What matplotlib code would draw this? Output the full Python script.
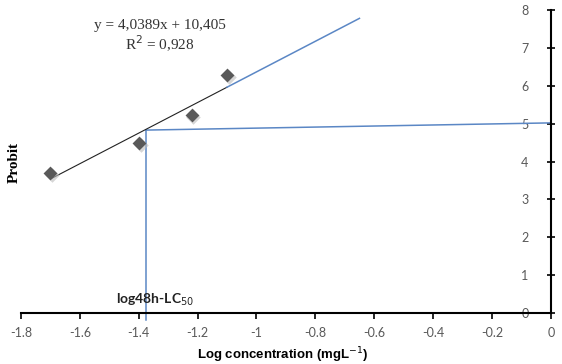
import matplotlib
matplotlib.use("Agg")
import matplotlib.pyplot as plt
import numpy as np

# observed points
log_conc = [-1.70, -1.40, -1.22, -1.10]
probit = [3.69, 4.49, 5.23, 6.28]

# fitted line y = a*x + b
slope = 4.0389
intercept = 10.405
fit_black_x = [-1.70, -1.10]
fit_blue_x = [-1.10, -0.65]

# LC50 guide lines
lc50_x = -1.375
guide_vert_y = [-0.18, 4.83]
guide_horiz_x = [-1.375, 0.0]
guide_horiz_y = [4.83, 5.02]

xticks = [-1.8, -1.6, -1.4, -1.2, -1, -0.8, -0.6, -0.4, -0.2, 0]
yticks = [0, 1, 2, 3, 4, 5, 6, 7, 8]

blue = "#5B87C5"
grey = "#595959"

fig = plt.figure(figsize=(5.62, 3.64), dpi=100)
ax = fig.add_axes([0.0374, 0.140, 0.9426, 0.8325])

fx = np.array(fit_black_x)
ax.plot(fx, slope * fx + intercept, color="#222222", lw=0.8, zorder=3)
bx = np.array(fit_blue_x)
ax.plot(bx, slope * bx + intercept, color=blue, lw=1.1, zorder=3)

ax.plot([lc50_x, lc50_x], guide_vert_y, color=blue, lw=1.1, clip_on=False, zorder=2)
ax.plot(guide_horiz_x, guide_horiz_y, color=blue, lw=1.1, clip_on=False, zorder=2)

# shadow + markers
ax.scatter(np.array(log_conc) + 0.006, np.array(probit) - 0.05, marker="D", s=55,
           color="#bbbbbb", alpha=0.6, zorder=4, linewidths=0)
ax.scatter(log_conc, probit, marker="D", s=50, color=grey, zorder=5, linewidths=0)

ax.set_xlim(-1.8, 0)
ax.set_ylim(0, 8)
ax.set_xticks(xticks)
ax.set_xticklabels([f"{t:g}" for t in xticks])
ax.set_yticks(yticks)

ax.yaxis.tick_right()
ax.spines["left"].set_visible(False)
ax.spines["top"].set_visible(False)
ax.spines["right"].set_linewidth(1.5)
ax.spines["bottom"].set_linewidth(1.5)
ax.tick_params(axis="both", direction="out", length=4, width=1.2,
               labelsize=9, labelcolor=grey, colors="black")
ax.tick_params(axis="x", pad=6)
for lbl in ax.get_xticklabels() + ax.get_yticklabels():
    lbl.set_fontfamily("Lato")
    lbl.set_color(grey)
# y labels sit to the left of the spine, like Excel
for lbl in ax.get_yticklabels():
    lbl.set_horizontalalignment("right")
ax.yaxis.set_tick_params(direction="inout", length=6, pad=-19)

fig.text(0.285, 0.93, "y = 4,0389x + 10,405", family="Liberation Serif",
         fontsize=11, color="#333333", ha="center", va="center")
fig.text(0.285, 0.88, "R$^2$ = 0,928", family="Liberation Serif",
         fontsize=11, color="#333333", ha="center", va="center")

fig.text(0.026, 0.555, "Probit", family="Liberation Serif", fontweight="bold",
         fontsize=11, rotation=90, ha="center", va="center")

ax.text(lc50_x + 0.03, 0.34, "log48h-LC$_{50}$", family="Lato", fontweight="bold",
        fontsize=10, color="#222222", ha="center", va="center")

fig.text(0.504, 0.025, "Log concentration (mgL$^{-1}$)", family="Liberation Sans",
         fontweight="bold", fontsize=9.5, ha="center", va="center")

fig.savefig("out.png", dpi=100)
